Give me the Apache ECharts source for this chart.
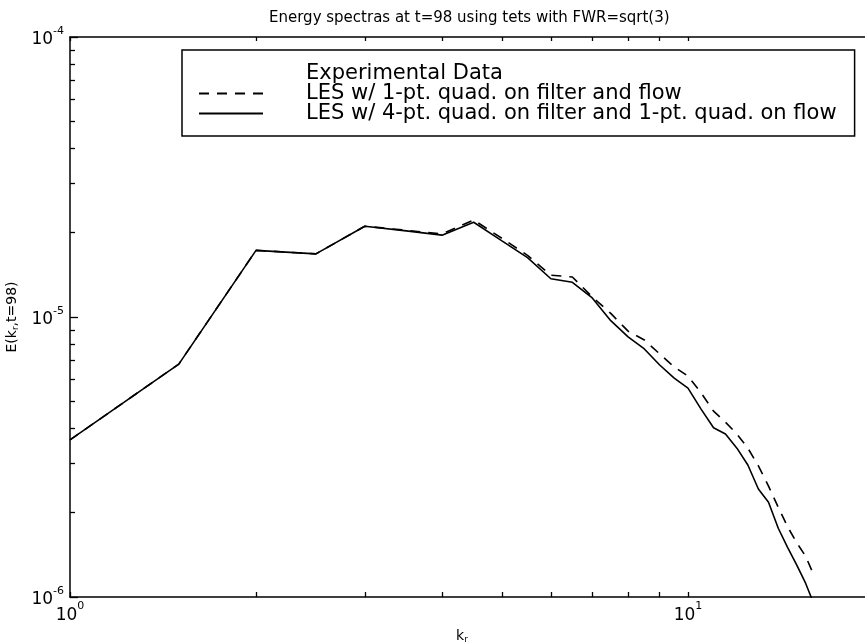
<!DOCTYPE html>
<html>
<head>
<meta charset="utf-8">
<title>Energy spectras</title>
<script src="https://cdn.jsdelivr.net/npm/echarts@6/dist/echarts.min.js"></script>
<style>
  html, body { margin: 0; padding: 0; background: #fff; }
  #chart { width: 865px; height: 642px; }
</style>
</head>
<body>
<div id="chart"></div>
<script>
// wavenumber shells k_r
var kValues = [1, 1.5, 2, 2.5, 3, 3.5, 4, 4.5, 5, 5.5, 6, 6.5, 7, 7.5, 8, 8.5,
  9, 9.5, 10, 10.5, 11, 11.5, 12, 12.5, 13, 13.5, 14, 14.5, 15, 15.5, 16];

// LES w/ 1-pt. quad. on filter and flow (dashed)
var lesOnePt = [3.64e-6, 6.79e-6, 1.73e-5, 1.68e-5, 2.11e-5, 2.04e-5, 1.98e-5, 2.22e-5,
  1.91e-5, 1.66e-5, 1.41e-5, 1.39e-5, 1.18e-5, 1.03e-5, 8.9e-6, 8.28e-6,
  7.38e-6, 6.63e-6, 6.15e-6, 5.36e-6, 4.61e-6, 4.21e-6, 3.82e-6, 3.40e-6,
  2.94e-6, 2.49e-6, 2.09e-6, 1.78e-6, 1.56e-6, 1.40e-6, 1.19e-6];

// LES w/ 4-pt. quad. on filter and 1-pt. quad. on flow (solid)
var lesFourPt = [3.64e-6, 6.79e-6, 1.73e-5, 1.68e-5, 2.11e-5, 2.03e-5, 1.96e-5, 2.18e-5,
  1.87e-5, 1.63e-5, 1.37e-5, 1.33e-5, 1.17e-5, 9.7e-6, 8.49e-6, 7.69e-6,
  6.74e-6, 6.05e-6, 5.57e-6, 4.69e-6, 4.02e-6, 3.82e-6, 3.40e-6, 2.96e-6,
  2.43e-6, 2.18e-6, 1.76e-6, 1.50e-6, 1.30e-6, 1.12e-6, 9.4e-7];

// ticks
var xMajorTicks = [1, 10];
var xMinorTicks = [2, 3, 4, 5, 6, 7, 8, 9, 20];
var yMajorTicks = [1e-6, 1e-5, 1e-4];
var yMinorTicks = [2e-6, 3e-6, 4e-6, 5e-6, 6e-6, 7e-6, 8e-6, 9e-6,
  2e-5, 3e-5, 4e-5, 5e-5, 6e-5, 7e-5, 8e-5, 9e-5];

var FONT = '"DejaVu Sans", Verdana, sans-serif';

function pairs(xs, ys) {
  return xs.map(function (x, i) { return [x, ys[i]]; });
}

// 10^n labels with superscript
function powLabel(v) {
  var e = Math.round(Math.log10(v));
  return '{b|10}{s|' + e + '}';
}
var powRich = {
  b: { fontSize: 17, fontFamily: FONT, color: '#000', padding: [6, 0, 0, 0], verticalAlign: 'bottom' },
  s: { fontSize: 11, fontFamily: FONT, color: '#000', verticalAlign: 'top' }
};

var tickStyle = { color: '#000', width: 1.3 };

var chart = echarts.init(document.getElementById('chart'));

var option = {
  backgroundColor: '#fff',
  animation: false,
  title: {
    text: 'Energy spectras at t=98 using tets with FWR=sqrt(3)',
    left: 264,
    top: 6,
    textStyle: { fontSize: 15, fontWeight: 'normal', fontFamily: FONT, color: '#000' }
  },
  legend: {
    orient: 'vertical',
    left: 182,
    top: 50,
    padding: [13, 18, 12, 16],
    itemGap: -1,
    itemWidth: 64,
    itemHeight: 16,
    borderColor: '#000',
    borderWidth: 1.5,
    backgroundColor: '#fff',
    itemStyle: { opacity: 0 },
    textStyle: { fontSize: 21, fontFamily: FONT, color: '#000', padding: [0, 0, 0, 38] },
    data: [
      { name: 'Experimental Data' },
      { name: 'LES w/ 1-pt. quad. on filter and flow' },
      { name: 'LES w/ 4-pt. quad. on filter and 1-pt. quad. on flow' }
    ]
  },
  grid: { left: 70, top: 37, bottom: 45, right: -9, outerBoundsMode: 'none' },
  xAxis: [
    {
      type: 'log', logBase: 10, min: 1, max: 20,
      position: 'bottom',
      name: '{a|k}{sub|r}',
      nameLocation: 'middle',
      nameGap: 17,
      nameTextStyle: {
        padding: [0, 20, 0, 0],
        rich: {
          a: { fontSize: 14, fontFamily: FONT, color: '#000' },
          sub: { fontSize: 9, fontFamily: FONT, color: '#000', verticalAlign: 'bottom', padding: [8, 0, 0, 0] }
        }
      },
      axisLine: { show: true, lineStyle: { color: '#000', width: 1.5 } },
      axisTick: { show: true, inside: true, length: 5, customValues: xMinorTicks.concat(xMajorTicks), lineStyle: tickStyle },
      axisLabel: { customValues: xMajorTicks, formatter: powLabel, rich: powRich, margin: 4 },
      splitLine: { show: false }
    },
    {
      type: 'log', logBase: 10, min: 1, max: 20,
      position: 'top',
      axisLine: { show: true, lineStyle: { color: '#000', width: 1.5 } },
      axisTick: { show: true, inside: true, length: 4, customValues: xMinorTicks.concat(xMajorTicks), lineStyle: tickStyle },
      axisLabel: { show: false },
      splitLine: { show: false }
    }
  ],
  yAxis: [
    {
      type: 'log', logBase: 10, min: 1e-6, max: 1e-4,
      position: 'left',
      name: '{a|E(k}{sub|r}{a|,t=98)}',
      nameLocation: 'middle',
      nameGap: 46,
      nameRotate: 90,
      nameTextStyle: {
        rich: {
          a: { fontSize: 14, fontFamily: FONT, color: '#000' },
          sub: { fontSize: 9, fontFamily: FONT, color: '#000', verticalAlign: 'bottom', padding: [8, 0, 0, 0] }
        }
      },
      axisLine: { show: true, lineStyle: { color: '#000', width: 1.5 } },
      axisTick: { show: true, inside: true, length: 8, customValues: yMajorTicks, lineStyle: tickStyle },
      axisLabel: { customValues: yMajorTicks, formatter: powLabel, rich: powRich, margin: 6 },
      splitLine: { show: false }
    },
    {
      type: 'log', logBase: 10, min: 1e-6, max: 1e-4,
      position: 'left',
      axisLine: { show: false },
      axisTick: { show: true, inside: true, length: 5, customValues: yMinorTicks, lineStyle: tickStyle },
      axisLabel: { show: false },
      splitLine: { show: false }
    }
  ],
  series: [
    {
      name: 'Experimental Data',
      type: 'line',
      data: [],
      symbol: 'none',
      lineStyle: { opacity: 0 },
      itemStyle: { opacity: 0 }
    },
    {
      name: 'LES w/ 1-pt. quad. on filter and flow',
      type: 'line',
      xAxisIndex: 0, yAxisIndex: 0,
      data: pairs(kValues, lesOnePt),
      symbol: 'none',
      itemStyle: { color: '#000' },
      lineStyle: { color: '#000', width: 1.6, type: [10, 8] }
    },
    {
      name: 'LES w/ 4-pt. quad. on filter and 1-pt. quad. on flow',
      type: 'line',
      xAxisIndex: 0, yAxisIndex: 0,
      data: pairs(kValues, lesFourPt),
      symbol: 'none',
      itemStyle: { color: '#000' },
      lineStyle: { color: '#000', width: 1.6, type: 'solid' }
    }
  ]
};

chart.setOption(option);
</script>
</body>
</html>
